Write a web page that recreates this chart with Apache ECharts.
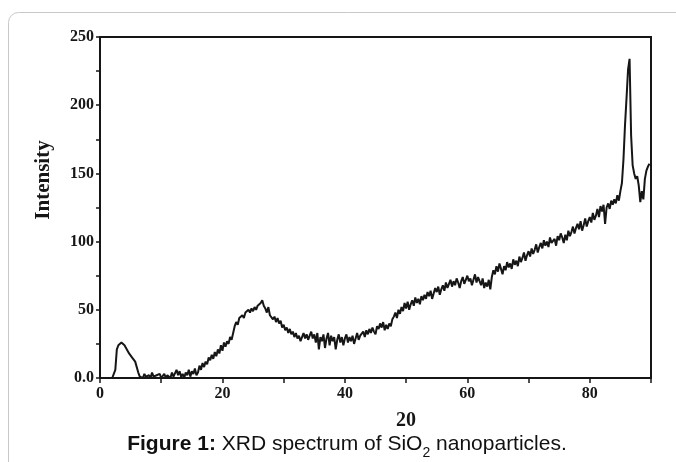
<!DOCTYPE html>
<html>
<head>
<meta charset="utf-8">
<script src="https://cdn.jsdelivr.net/npm/echarts@6/dist/echarts.min.js"></script>
<style>html,body{margin:0;padding:0;background:#fff;}#c{width:676px;height:462px;}</style>
</head>
<body>
<div id="c"></div>
<script>
// Sampling grid of the scan (2θ in degrees)
const TWO_THETA_START = 2.0;
const TWO_THETA_STEP = 0.25;
// Intensity, one value per 0.25° from 2.0° to 89.75°
const intensity = [
  0, 0, 6, 21,      24, 25, 26, 25,      24, 22, 21, 18,      19, 15, 16, 12,
  13, 4, 1, 2,      0, 3, 1, 0,          2, 0, 4, 1,          0, 2, 1, 3,
  0, 1, 3, 0,       2, 1, 0, 4,          1, 2, 6, 2,          5, 1, 3, 0,
  4, 2, 6, 1,       5, 3, 7, 2,          4, 9, 6, 11,         8, 12, 10, 15,
  13, 17, 14, 19,   16, 21, 18, 24,      20, 26, 23, 27,      25, 30, 28, 33,
  38, 41, 39, 44,   43, 46, 44, 48,      47, 50, 48, 51,      49, 52, 50, 53,
  52, 55, 57, 53,   51, 48, 52, 46,      47, 43, 45, 41,      44, 40, 42, 37,
  39, 35, 37, 33,   36, 32, 34, 30,      33, 29, 31, 27,      30, 33, 29, 32,
  28, 31, 34, 29,   32, 26, 33, 21,      30, 27, 32, 22,      29, 33, 24, 31,
  27, 30, 21, 28,   32, 26, 30, 24,      29, 32, 26, 30,      27, 31, 25, 29,
  33, 28, 31, 30,   34, 30, 35, 32,      36, 33, 37, 34,      32, 38, 36, 40,
  37, 41, 35, 39,   36, 40, 38, 43,      45, 48, 44, 50,      47, 52, 49, 55,
  51, 56, 50, 54,   57, 53, 59, 55,      58, 54, 60, 57,      61, 58, 63, 60,
  64, 58, 62, 66,   63, 67, 61, 65,      68, 64, 70, 66,      69, 72, 67, 71,
  68, 73, 70, 66,   71, 74, 69, 72,      75, 71, 73, 68,      72, 76, 70, 74,
  71, 68, 73, 66,   70, 67, 72, 65,      74, 79, 76, 82,      78, 84, 80, 76,
  82, 79, 85, 81,   84, 80, 87, 83,      86, 82, 89, 85,      88, 92, 86, 90,
  93, 89, 95, 91,   94, 98, 92, 96,      99, 95, 101, 97,     100, 96, 103, 99,
  98, 102, 97, 104, 101, 106, 103, 99,   105, 101, 108, 104,  107, 111, 106, 110,
  113, 109, 115, 108, 112, 117, 111, 115, 118, 114, 121, 116, 119, 124, 118, 126,
  122, 127, 113, 125, 128, 124, 130, 127, 131, 128, 134, 130, 137, 143, 160, 185,
  205, 226, 234, 178, 156, 150, 146, 148, 141, 129, 137, 131, 146, 152, 155, 157
];
// Axis ticks
const xTickLabels = [0, 20, 40, 60, 80];
const yTickLabels = [0, 50, 100, 150, 200, 250];
const xAxisTitle = '20';
const yAxisTitle = 'Intensity';

const data = intensity.map((v, i) => [TWO_THETA_START + i * TWO_THETA_STEP, v]);
const ink = '#161616';
const serif = '"Liberation Serif", "Times New Roman", serif';

const chart = echarts.init(document.getElementById('c'), null, { renderer: 'canvas' });
chart.setOption({
  animation: false,
  backgroundColor: '#fff',
  grid: { left: 100, right: 25, top: 37, bottom: 84, show: true, borderColor: ink, borderWidth: 2, backgroundColor: 'transparent' },
  xAxis: {
    type: 'value', min: 0, max: 90, interval: 10,
    splitLine: { show: false },
    axisLine: { show: true, onZero: false, lineStyle: { color: ink, width: 2 } },
    axisTick: { show: true, inside: false, length: 5, lineStyle: { color: ink, width: 1.5 } },
    axisLabel: {
      margin: 8, color: ink, fontFamily: serif, fontWeight: 'bold', fontSize: 16,
      formatter: v => xTickLabels.includes(v) ? String(v) : ''
    },
    name: xAxisTitle, nameLocation: 'middle', nameGap: 33,
    nameTextStyle: { color: ink, fontFamily: serif, fontWeight: 'bold', fontSize: 20, padding: [0, 0, 0, 61] }
  },
  yAxis: {
    type: 'value', min: 0, max: 250, interval: 25,
    splitLine: { show: false },
    axisLine: { show: true, onZero: false, lineStyle: { color: ink, width: 2 } },
    axisTick: { show: true, inside: false, length: 4, lineStyle: { color: ink, width: 1.5 } },
    axisLabel: {
      margin: 6, color: ink, fontFamily: serif, fontWeight: 'bold', fontSize: 16,
      formatter: v => yTickLabels.includes(v) ? (v === 0 ? '0.0' : String(v)) : ''
    }
  },
  graphic: [
    { type: 'rect', silent: true, z: -10,
      shape: { x: 8.5, y: 12.5, width: 720, height: 520, r: 10 },
      style: { fill: 'none', stroke: '#c8c8c8', lineWidth: 1 } },
    { type: 'text', x: 44, y: 180, rotation: Math.PI / 2, silent: true,
      style: { text: yAxisTitle, fill: ink, font: 'bold 21px ' + serif, textAlign: 'center', textVerticalAlign: 'middle' } },
    { type: 'text', x: 347, y: 445, silent: true,
      style: {
        text: '{b|Figure 1:}{n| XRD spectrum of SiO}{s|2}{n| nanoparticles.}',
        textAlign: 'center', textVerticalAlign: 'middle',
        rich: {
          b: { font: 'bold 21px "Liberation Sans", Arial, sans-serif', fill: '#111', lineHeight: 23, verticalAlign: 'top' },
          n: { font: '21px "Liberation Sans", Arial, sans-serif', fill: '#111', lineHeight: 23, verticalAlign: 'top' },
          s: { font: '14px "Liberation Sans", Arial, sans-serif', fill: '#111', lineHeight: 15, verticalAlign: 'top', padding: [13, 0, 0, 0] }
        }
      } }
  ],
  series: [{
    type: 'line', data: data, showSymbol: false, symbol: 'none',
    lineStyle: { color: ink, width: 2 }, z: 3
  }]
});
</script>
</body>
</html>
